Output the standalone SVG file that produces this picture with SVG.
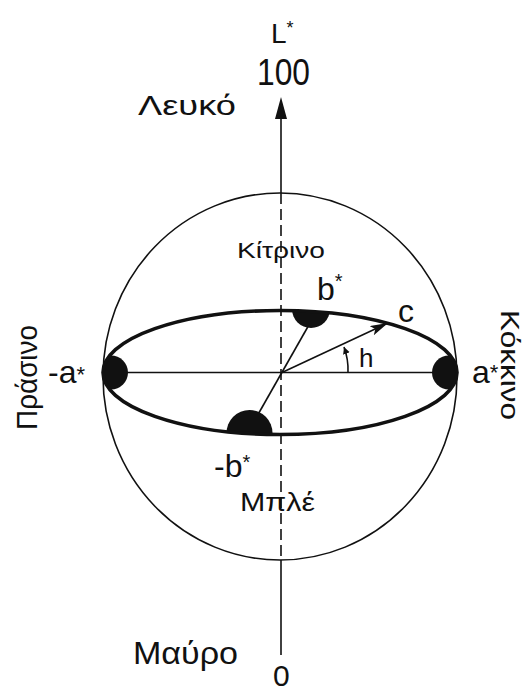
<svg xmlns="http://www.w3.org/2000/svg" width="526" height="693" viewBox="0 0 526 693">
<style>
  .ln { stroke:#111; stroke-width:1.6; fill:none; }
  .thick { stroke:#111; stroke-width:3.6; fill:none; }
  .dash { stroke:#111; stroke-width:1.6; stroke-dasharray:11 5; fill:none; }
  .blob { fill:#111; }
  text { font-family:"Liberation Sans","DejaVu Sans",Arial,sans-serif; fill:#111; }
</style>
<defs>
  <clipPath id="inEll"><ellipse cx="280" cy="372.5" rx="177" ry="62"/></clipPath>
  <marker id="arrC" markerUnits="userSpaceOnUse" markerWidth="20" markerHeight="12" refX="18" refY="5" orient="auto">
    <path d="M0,0 L18,5 L0,10 L4,5 z" fill="#111"/>
  </marker>
  <marker id="arrS" markerUnits="userSpaceOnUse" markerWidth="10" markerHeight="8" refX="7" refY="3.5" orient="auto">
    <path d="M0,0 L7,3.5 L0,7 z" fill="#111"/>
  </marker>
</defs>
<rect width="526" height="693" fill="#fff"/>

<g id="sphere">
  <ellipse class="ln" cx="280" cy="376.5" rx="177" ry="183.5"/>
</g>

<g id="connectors">
  <line id="a-axis" class="ln" x1="103" y1="372.5" x2="457" y2="372.5"/>
  <line id="b-axis" class="ln" x1="310" y1="323" x2="256" y2="418"/>
  <line id="c-vector" class="ln" x1="282" y1="372.5" x2="388" y2="323" marker-end="url(#arrC)"/>
  <path id="h-arc" class="ln" d="M348,372.5 A66,66 0 0 0 344,347" marker-end="url(#arrS)"/>
  <line id="L-axis-top" class="ln" x1="281" y1="117" x2="281" y2="193"/>
  <polygon points="281,97 275,119 287,119" fill="#111"/>
  <line id="L-axis-inside" class="dash" x1="281" y1="193" x2="281" y2="560"/>
  <line id="L-axis-bottom" class="ln" x1="281" y1="560" x2="281" y2="655"/>
</g>

<g id="chroma-plane">
  <g clip-path="url(#inEll)">
    <circle class="blob" cx="111" cy="372.5" r="17"/>
    <circle class="blob" cx="449" cy="372.5" r="17"/>
    <circle class="blob" cx="311" cy="309" r="19"/>
    <circle class="blob" cx="249.5" cy="433" r="23"/>
  </g>
  <ellipse class="thick" cx="280" cy="372.5" rx="177" ry="62"/>
</g>

<g id="labels">
  <text x="271" y="43" font-size="28">L<tspan font-size="18" dy="-9">*</tspan></text>
  <text x="257" y="85" font-size="36" textLength="53" lengthAdjust="spacingAndGlyphs">100</text>
  <text x="138" y="115" font-size="28" textLength="98" lengthAdjust="spacingAndGlyphs">Λευκό</text>
  <text x="237" y="258" font-size="22" textLength="88" lengthAdjust="spacingAndGlyphs">Κίτρινο</text>
  <text x="317" y="300" font-size="32">b<tspan font-size="20" dy="-12">*</tspan></text>
  <text x="398" y="322" font-size="32">c</text>
  <text x="359" y="367" font-size="26">h</text>
  <text x="48" y="383" font-size="32">-a<tspan font-size="22" dy="-1">*</tspan></text>
  <text x="472" y="383" font-size="32">a<tspan font-size="22" dy="-3">*</tspan></text>
  <text x="214" y="477" font-size="32">-b<tspan font-size="20" dy="-8">*</tspan></text>
  <text x="240" y="511" font-size="26" textLength="75" lengthAdjust="spacingAndGlyphs">Μπλέ</text>
  <text x="133" y="664" font-size="32" textLength="105" lengthAdjust="spacingAndGlyphs">Μαύρο</text>
  <text x="273" y="686" font-size="30">0</text>
  <text transform="translate(37,377.5) rotate(-90)" text-anchor="middle" font-size="30" textLength="105" lengthAdjust="spacingAndGlyphs">Πράσινο</text>
  <text transform="translate(501,365) rotate(90)" text-anchor="middle" font-size="26" textLength="110" lengthAdjust="spacingAndGlyphs">Κόκκινο</text>
</g>
</svg>
